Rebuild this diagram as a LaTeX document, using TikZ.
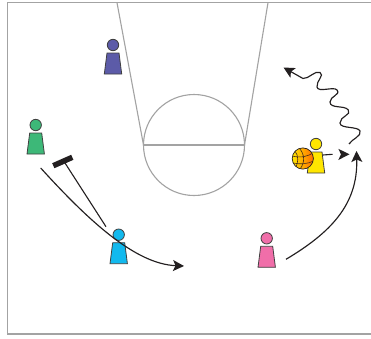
\documentclass[tikz,border=0pt]{standalone}
\usetikzlibrary{arrows.meta,shadings}
\definecolor{courtgray}{HTML}{A3A3A3}
\definecolor{inkline}{HTML}{231F20}
\definecolor{pgreen}{HTML}{3DB878}
\definecolor{pblue}{HTML}{12B9EE}
\definecolor{ppurple}{HTML}{5C5BA8}
\definecolor{ppink}{HTML}{F06EA9}
\definecolor{pyellow}{HTML}{FFE600}
\tikzset{
  court/.style={draw=courtgray,line width=1.1pt},
  move/.style={draw=inkline,line width=1.15pt,-{Stealth[length=11pt,width=11pt,inset=2.5pt]}},
  screenline/.style={draw=inkline,line width=1.1pt},
  seam/.style={draw=inkline!85!orange,line width=.6pt},
  player/.pic={
    \path[draw=black!75,line width=.8pt,fill=#1] (-6,8) -- (6,8) -- (8.7,29) -- (-8.7,29) -- cycle;
    \path[draw=black!75,line width=.8pt,fill=#1] (0,0) circle (5.7);
  }
}
\begin{document}
\begin{tikzpicture}[x=1pt,y=-1pt]
\useasboundingbox (0,0) rectangle (371,338);
\fill[white] (0,0) rectangle (371,338);
% court
\draw[court] (371,2.7) -- (7.5,2.7) -- (7.5,334) -- (371,334);
\draw[court] (117,2.7) -- (143.5,145);
\draw[court] (268,2.7) -- (244.5,145);
\draw[court] (143.5,145) -- (244.5,145);
\draw[court] (194,145) circle (50.5);
% players
\pic at (35.7,125) {player=pgreen};
\pic at (113,45) {player=ppurple};
\pic at (118.7,234.7) {player=pblue};
\pic at (266.7,238.3) {player=ppink};
\pic at (316,144) {player=pyellow};
% screen
\coordinate (barA) at (53.3,165.7);
\coordinate (barB) at (72.3,157.3);
\coordinate (screenTop) at (65,163);
\coordinate (screenEnd) at (106,226.7);
\draw[inkline,line width=5.5pt] (barA) -- (barB);
\draw[screenline] (screenTop) -- (screenEnd);
% cut
\coordinate (cutS) at (40.7,168);
\coordinate (cutE) at (184,266);
\draw[move] (cutS) .. controls (88,220) and (135,264) .. (cutE);
% pink move
\coordinate (pinkS) at (286,259.3);
\coordinate (pinkE) at (356.5,151);
\draw[move] (pinkS) .. controls (330,233) and (358,205) .. (pinkE);
% pass stub
\coordinate (passS) at (322.7,155);
\coordinate (passE) at (332.7,154.3);
\draw[inkline,line width=1.1pt] (passS) -- (passE);
\fill[inkline] (338.3,148.8) -- (349.5,154.3) -- (338.3,160) -- (341,154.3) -- cycle;
% dribble
\coordinate (dribS) at (349,144);
\coordinate (dribE) at (283.5,67.5);
\draw[move] (dribS) .. controls (352,139) and (362,136) .. (360,131)
 .. controls (358,126) and (340,129) .. (340,123)
 .. controls (340,116) and (352,115) .. (348.3,110)
 .. controls (345,105) and (330,109) .. (330,102)
 .. controls (330,96) and (341,95) .. (337,90)
 .. controls (334,86) and (318,93) .. (317,87)
 .. controls (316,81) and (325,75) .. (320,72.5)
 .. controls (315,70) and (309,79) .. (303,78.5)
 -- (dribE);
% ball
\shade[left color=pyellow,right color=orange!85!red,draw=inkline,line width=.7pt] (302.8,158.5) circle (10.6);
\begin{scope}
\clip (302.8,158.5) circle (10.6);
\draw[seam] (292,156) .. controls (300,158) and (308,157) .. (314,152);
\draw[seam] (293,163) .. controls (300,164.5) and (308,164) .. (313.5,161);
\draw[seam] (299,148) .. controls (305,154) and (305,163) .. (300,169);
\draw[seam] (295,151) .. controls (299,156) and (298,163) .. (296,167);
\end{scope}
\end{tikzpicture}
\end{document}
